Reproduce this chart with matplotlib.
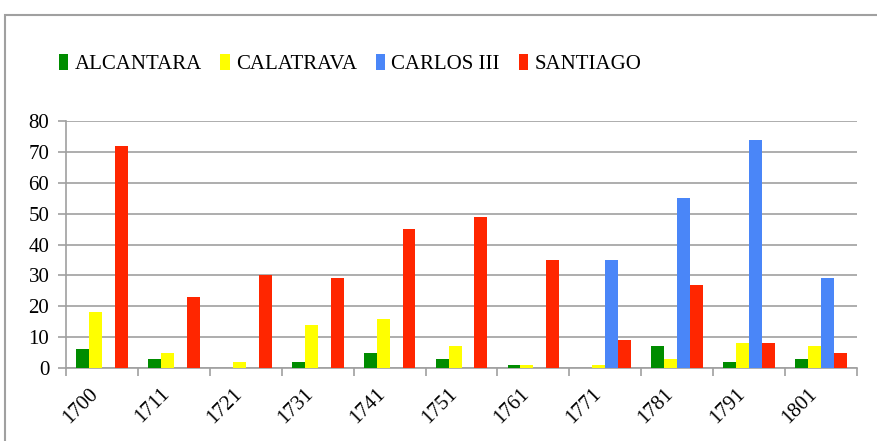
import matplotlib.pyplot as plt
import matplotlib.transforms as mtransforms
import numpy as np
from matplotlib.patches import Rectangle

plt.rcParams['font.family'] = ['Liberation Serif', 'DejaVu Serif']

years = ["1700", "1711", "1721", "1731", "1741", "1751", "1761", "1771", "1781", "1791", "1801"]
alcantara = [6, 3, 0, 2, 5, 3, 1, 0, 7, 2, 3]
calatrava = [18, 5, 2, 14, 16, 7, 1, 1, 3, 8, 7]
carlos_iii = [0, 0, 0, 0, 0, 0, 0, 35, 55, 74, 29]
santiago = [72, 23, 30, 29, 45, 49, 35, 9, 27, 8, 5]

series = [("ALCANTARA", alcantara, "#008C00"),
          ("CALATRAVA", calatrava, "#FFFF00"),
          ("CARLOS III", carlos_iii, "#4A86F8"),
          ("SANTIAGO", santiago, "#FF2600")]

fig = plt.figure(figsize=(8.77, 4.41), dpi=100)
ax = fig.add_axes([66/877, 1 - 368/441, (857 - 66)/877, (368 - 121)/441])

# outer frame of the chart
fig.patches.append(Rectangle((5/877, -0.1), 1.2, 1.1 - 15/441, transform=fig.transFigure,
                             fill=False, edgecolor="#a0a0a0", linewidth=1.5))

x = np.arange(len(years))
w = 0.18
for i, (name, vals, col) in enumerate(series):
    ax.bar(x + (i - 1.5) * w, vals, width=w, color=col, label=name, zorder=3)

ax.set_xlim(-0.5, len(years) - 0.5)
ax.set_ylim(0, 80)
ax.set_yticks(range(0, 81, 10))
ax.yaxis.grid(True, color="#a0a0a0", linewidth=1.2, zorder=0)

ax.set_xticks(x)
ax.set_xticklabels(years, rotation=45, ha="right", fontsize=15)
offset = mtransforms.ScaledTranslation(6/100, 0, fig.dpi_scale_trans)
for lbl in ax.get_xticklabels():
    lbl.set_transform(lbl.get_transform() + offset)
ax.set_xticks(np.arange(-0.5, len(years)), minor=True)
ax.tick_params(axis="x", which="major", length=0, pad=12)
ax.tick_params(axis="x", which="minor", length=6, width=1.2, color="#a0a0a0")
ax.tick_params(axis="y", length=6, width=1.2, color="#a0a0a0", labelsize=15, pad=6)

for s in ["top", "right"]:
    ax.spines[s].set_visible(False)
for s in ["left", "bottom"]:
    ax.spines[s].set_color("#a0a0a0")
    ax.spines[s].set_linewidth(1.2)

fig.legend(loc="center left", bbox_to_anchor=(40/877, 1 - 64/441), ncol=4, frameon=False,
           fontsize=15, handlelength=0.45, handleheight=0.8, handletextpad=0.3,
           columnspacing=0.9)

fig.savefig("out.png", dpi=100)
